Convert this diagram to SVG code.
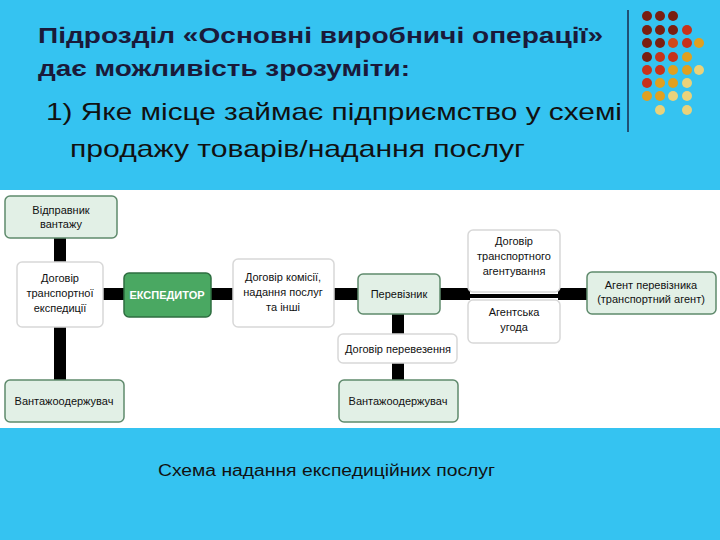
<svg xmlns="http://www.w3.org/2000/svg" width="720" height="540" viewBox="0 0 720 540">
<style>
.t{font-family:"Liberation Sans",Arial,sans-serif;fill:#111}
.b{font-family:"Liberation Sans",Arial,sans-serif;font-size:11px;fill:#111;text-anchor:middle}
.g{fill:#e2f0e6;stroke:#5f8a6c;stroke-width:1.5}
.w{fill:#fff;stroke:#d8d8d8;stroke-width:1.5}
.c{stroke:#000;stroke-width:12;fill:none}
</style>
<rect width="720" height="540" fill="#35c3f1"/>
<rect x="0" y="190" width="720" height="238" fill="#fff"/>
<text class="t" x="38" y="43" font-size="22" font-weight="bold" textLength="565" lengthAdjust="spacingAndGlyphs" style="fill:#1a1a3a">Підрозділ «Основні виробничі операції»</text>
<text class="t" x="38" y="76" font-size="22" font-weight="bold" textLength="372" lengthAdjust="spacingAndGlyphs" style="fill:#1a1a3a">дає можливість зрозуміти:</text>
<text class="t" x="46" y="120" font-size="24" textLength="576" lengthAdjust="spacingAndGlyphs">1) Яке місце займає підприємство у схемі</text>
<text class="t" x="70" y="157" font-size="24" textLength="455" lengthAdjust="spacingAndGlyphs">продажу товарів/надання послуг</text>
<line x1="628" y1="10" x2="628" y2="132" stroke="#1a2a4a" stroke-width="1.5"/>
<g id="dots">
<circle cx="647" cy="16" r="5" fill="#7a1e10"/><circle cx="660" cy="16" r="5" fill="#7a1e10"/><circle cx="673" cy="16" r="5" fill="#7a1e10"/>
<circle cx="647" cy="30" r="5" fill="#7a1e10"/><circle cx="660" cy="30" r="5" fill="#7a1e10"/><circle cx="673" cy="30" r="5" fill="#7a1e10"/><circle cx="687" cy="30" r="5" fill="#c8321a"/>
<circle cx="647" cy="43" r="5" fill="#7a1e10"/><circle cx="660" cy="43" r="5" fill="#7a1e10"/><circle cx="673" cy="43" r="5" fill="#d04a1a"/><circle cx="687" cy="43" r="5" fill="#c8321a"/><circle cx="699" cy="43" r="5" fill="#e0a020"/>
<circle cx="647" cy="57" r="5" fill="#7a1e10"/><circle cx="660" cy="57" r="5" fill="#c8321a"/><circle cx="673" cy="57" r="5" fill="#c8321a"/><circle cx="687" cy="57" r="5" fill="#e0a020"/>
<circle cx="647" cy="70" r="5" fill="#c8321a"/><circle cx="660" cy="70" r="5" fill="#c8321a"/><circle cx="673" cy="70" r="5" fill="#e0a020"/><circle cx="687" cy="70" r="5" fill="#e0a020"/><circle cx="699" cy="70" r="5" fill="#ead27a"/>
<circle cx="647" cy="83" r="5" fill="#c8321a"/><circle cx="660" cy="83" r="5" fill="#e0a020"/><circle cx="673" cy="83" r="5" fill="#e0a020"/><circle cx="687" cy="83" r="5" fill="#ead27a"/>
<circle cx="647" cy="96" r="5" fill="#e0a020"/><circle cx="660" cy="96" r="5" fill="#e0a020"/><circle cx="673" cy="96" r="5" fill="#ead27a"/><circle cx="687" cy="96" r="5" fill="#ead27a"/>
<circle cx="660" cy="110" r="5" fill="#ead27a"/><circle cx="687" cy="110" r="5" fill="#ead27a"/>
</g>
<g id="connectors">
<line class="c" x1="60" y1="238" x2="60" y2="262"/>
<line class="c" x1="60" y1="327" x2="60" y2="380"/>
<line class="c" x1="103" y1="294" x2="124" y2="294"/>
<line class="c" x1="211" y1="294" x2="233" y2="294"/>
<line class="c" x1="334" y1="294" x2="358" y2="294"/>
<line class="c" x1="440" y1="294" x2="470" y2="294"/>
<line class="c" x1="558" y1="294" x2="587" y2="294"/>
<line x1="470" y1="296" x2="558" y2="296" stroke="#000" stroke-width="4"/>
<line class="c" x1="398" y1="314" x2="398" y2="334"/>
<line class="c" x1="398" y1="363" x2="398" y2="380"/>
</g>
<g id="n1"><rect class="g" x="5" y="196" width="112" height="42" rx="5"/><text class="b" x="61" y="214">Відправник</text><text class="b" x="61" y="228">вантажу</text></g>
<g id="n2"><rect class="w" x="17" y="262" width="86" height="65" rx="5"/><text class="b" x="60" y="282">Договір</text><text class="b" x="60" y="297">транспортної</text><text class="b" x="60" y="312">експедиції</text></g>
<g id="n3"><rect x="124" y="273" width="87" height="44" rx="5" fill="#4aa862" stroke="#2e6e40" stroke-width="1.5"/><text class="b" x="167" y="299" font-weight="bold" style="fill:#fff">ЕКСПЕДИТОР</text></g>
<g id="n4"><rect class="w" x="233" y="259" width="101" height="68" rx="5"/><text class="b" x="283" y="281">Договір комісії,</text><text class="b" x="283" y="296">надання послуг</text><text class="b" x="283" y="311">та інші</text></g>
<g id="n5"><rect class="g" x="5" y="380" width="119" height="42" rx="5"/><text class="b" x="64" y="405">Вантажоодержувач</text></g>
<g id="n6"><rect class="g" x="358" y="274" width="82" height="40" rx="5"/><text class="b" x="399" y="298">Перевізник</text></g>
<g id="n7"><rect class="w" x="338" y="334" width="119" height="29" rx="5"/><text class="b" x="398" y="353">Договір перевезення</text></g>
<g id="n8"><rect class="g" x="339" y="380" width="119" height="42" rx="5"/><text class="b" x="398" y="405">Вантажоодержувач</text></g>
<g id="n9"><rect class="w" x="468" y="230" width="92" height="62" rx="5"/><text class="b" x="514" y="245">Договір</text><text class="b" x="514" y="260">транспортного</text><text class="b" x="514" y="275">агентування</text></g>
<g id="n10"><rect class="w" x="468" y="300" width="92" height="43" rx="5"/><text class="b" x="514" y="316">Агентська</text><text class="b" x="514" y="331">угода</text></g>
<g id="n11"><rect class="g" x="587" y="272" width="129" height="42" rx="5"/><text class="b" x="651" y="289">Агент перевізника</text><text class="b" x="651" y="303">(транспортний агент)</text></g>
<text class="t" x="158" y="476" font-size="16" textLength="337" lengthAdjust="spacingAndGlyphs">Схема надання експедиційних послуг</text>
</svg>
